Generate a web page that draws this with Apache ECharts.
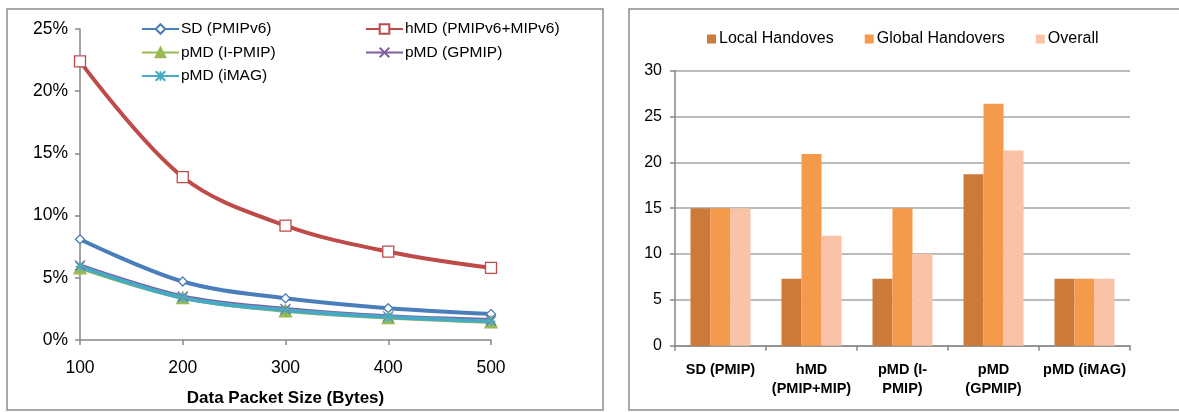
<!DOCTYPE html>
<html><head><meta charset="utf-8">
<script src="https://cdn.jsdelivr.net/npm/echarts@6/dist/echarts.min.js"></script>
<style>html,body{margin:0;padding:0;background:#fff}#c{width:1179px;height:412px}</style>
</head><body><div id="c"></div>
<script>
// Left chart data
const packetSizes = [100, 200, 300, 400, 500];
const sdPMIPv6 = [8.1, 4.7, 3.35, 2.55, 2.1];
const hMD = [22.4, 13.1, 9.2, 7.1, 5.8];
const pMD_IPMIP = [5.8, 3.4, 2.35, 1.8, 1.45];
const pMD_GPMIP = [6.0, 3.5, 2.5, 1.9, 1.6];
const pMD_iMAG = [5.9, 3.4, 2.4, 1.85, 1.5];
const leftNames = ['SD (PMIPv6)', 'hMD (PMIPv6+MIPv6)', 'pMD (I-PMIP)', 'pMD (GPMIP)', 'pMD (iMAG)'];

// Right chart data
const schemes = ['SD (PMIP)', 'hMD\n(PMIP+MIP)', 'pMD (I-\nPMIP)', 'pMD\n(GPMIP)', 'pMD (iMAG)'];
const localHandovers = [15, 7.3, 7.3, 18.7, 7.3];
const globalHandovers = [15, 20.9, 15, 26.4, 7.3];
const overall = [15, 12, 10, 21.3, 7.3];
const barNames = ['Local Handoves', 'Global Handovers', 'Overall'];

const FONT = '"Liberation Sans", Arial, sans-serif';
const AX = '#868686';
const pts = a => a.map((v, i) => [packetSizes[i], v / 100]);
const X_SYM = 'path://M0,0L10,10M10,0L0,10';
const STAR_SYM = 'path://M0,0L10,10M10,0L0,10M5,0L5,10M0,5L10,5';

function lineSeries(name, data, color, symbol, size, fill) {
  return {
    name, type: 'line', xAxisIndex: 0, yAxisIndex: 0, data: pts(data),
    smooth: 0.35, symbol, symbolSize: size, showAllSymbol: true,
    lineStyle: { color, width: 4 },
    itemStyle: { color: fill, borderColor: color, borderWidth: 1.3 },
    emphasis: { disabled: true }
  };
}

const chart = echarts.init(document.getElementById('c'), null, { renderer: 'canvas' });
chart.setOption({
  animation: false,
  textStyle: { fontFamily: FONT },
  graphic: [
    { type: 'rect', shape: { x: 7, y: 9, width: 596, height: 401 }, style: { fill: 'none', stroke: '#8c8c8c', lineWidth: 1.5 }, z: 0 },
    { type: 'rect', shape: { x: 629, y: 9, width: 560, height: 401 }, style: { fill: 'none', stroke: '#8c8c8c', lineWidth: 1.5 }, z: 0 }
  ],
  legend: [
    { data: [leftNames[0], leftNames[2], leftNames[4]], orient: 'vertical', left: 141, top: 21, padding: 0,
      itemWidth: 37, itemHeight: 12, itemGap: 7.5, textStyle: { fontSize: 15.5, color: '#000', fontFamily: FONT, padding: [0,0,0,-3] } },
    { data: [leftNames[1], leftNames[3]], orient: 'vertical', left: 365, top: 21, padding: 0,
      itemWidth: 37, itemHeight: 12, itemGap: 7.5, textStyle: { fontSize: 15.5, color: '#000', fontFamily: FONT, padding: [0,0,0,-3] } },
    { data: barNames, orient: 'horizontal', left: 707, top: 31, padding: 0, icon: 'rect',
      itemWidth: 9, itemHeight: 9, itemGap: 31, textStyle: { fontSize: 16, color: '#000', fontFamily: FONT, padding: [0,0,0,-2] } }
  ],
  grid: [
    { left: 80, right: 688, top: 29, bottom: 71 },
    { left: 675, right: 49, top: 70.7, bottom: 66.3 }
  ],
  xAxis: [
    { gridIndex: 0, type: 'value', min: 100, max: 500, interval: 100,
      name: 'Data Packet Size (Bytes)', nameLocation: 'middle', nameGap: 50,
      nameTextStyle: { fontSize: 17, fontWeight: 'bold', color: '#000', fontFamily: FONT },
      axisLine: { lineStyle: { color: AX, width: 1.5 } },
      axisTick: { show: true, length: 5, lineStyle: { color: AX, width: 1.5 } },
      axisLabel: { fontSize: 17.5, color: '#000', margin: 19, fontFamily: FONT },
      splitLine: { show: false } },
    { gridIndex: 1, type: 'category', data: schemes,
      axisLine: { lineStyle: { color: AX, width: 1.5 } },
      axisTick: { show: true, length: 5, alignWithLabel: false, lineStyle: { color: AX, width: 1.5 } },
      axisLabel: { fontSize: 14.5, fontWeight: 'bold', color: '#000', margin: 15, lineHeight: 19, interval: 0, fontFamily: FONT } }
  ],
  yAxis: [
    { gridIndex: 0, type: 'value', min: 0, max: 0.25, interval: 0.05,
      axisLine: { show: true, lineStyle: { color: AX, width: 1.5 } },
      axisTick: { show: true, length: 5, lineStyle: { color: AX, width: 1.5 } },
      axisLabel: { fontSize: 17.5, color: '#000', margin: 12, fontFamily: FONT,
        formatter: v => Math.round(v * 100) + '%' },
      splitLine: { show: false } },
    { gridIndex: 1, type: 'value', min: 0, max: 30, interval: 5,
      axisLine: { show: true, lineStyle: { color: AX, width: 1.5 } },
      axisTick: { show: true, length: 5, lineStyle: { color: AX, width: 1.5 } },
      axisLabel: { fontSize: 16, color: '#000', margin: 13, fontFamily: FONT },
      splitLine: { show: true, lineStyle: { color: '#a6a6a6', width: 1.5 } } }
  ],
  series: [
    lineSeries(leftNames[0], sdPMIPv6, '#4A7EBB', 'diamond', 9, '#fff'),
    lineSeries(leftNames[1], hMD, '#BE4B48', 'rect', 11, '#fff'),
    lineSeries(leftNames[2], pMD_IPMIP, '#98B954', 'triangle', 12, '#98B954'),
    lineSeries(leftNames[3], pMD_GPMIP, '#7D60A0', X_SYM, 10, '#7D60A0'),
    lineSeries(leftNames[4], pMD_iMAG, '#46AAC5', STAR_SYM, 9, '#46AAC5'),
    { name: barNames[0], type: 'bar', xAxisIndex: 1, yAxisIndex: 1, data: localHandovers,
      barWidth: 20, barGap: '0%', itemStyle: { color: '#CB7A3A' }, emphasis: { disabled: true } },
    { name: barNames[1], type: 'bar', xAxisIndex: 1, yAxisIndex: 1, data: globalHandovers,
      barWidth: 20, barGap: '0%', itemStyle: { color: '#F5994A' }, emphasis: { disabled: true } },
    { name: barNames[2], type: 'bar', xAxisIndex: 1, yAxisIndex: 1, data: overall,
      barWidth: 20, barGap: '0%', itemStyle: { color: '#F9C3A8' }, emphasis: { disabled: true } }
  ]
});
</script></body></html>
